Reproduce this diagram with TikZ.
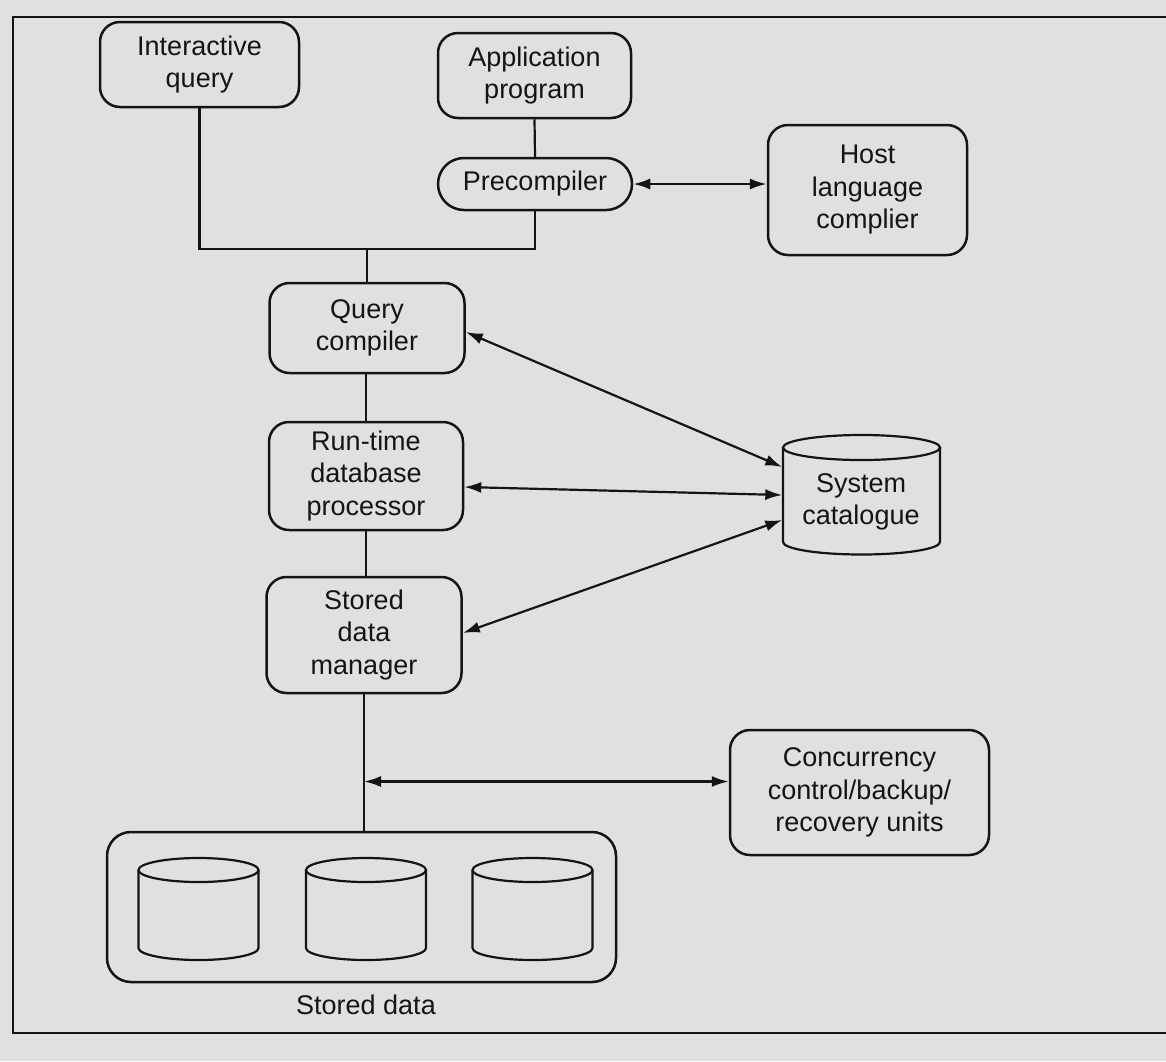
\documentclass[tikz,border=0pt]{standalone}
\usepackage{fontspec}
\setmainfont{Liberation Sans}
\usetikzlibrary{arrows.meta,calc}
\definecolor{paper}{RGB}{224,224,222}
\definecolor{ink}{RGB}{20,20,20}
\begin{document}
\begin{tikzpicture}[x=1pt,y=-1pt,
  every node/.style={font=\fontsize{27}{32.5}\selectfont, text=ink, align=center, inner sep=0pt},
  box/.style={draw=ink, line width=2.5pt, rounded corners=20pt},
  pill/.style={draw=ink, line width=2.5pt, rounded corners=26pt},
  conn/.style={draw=ink, line width=2.2pt},
  biarrow/.style={draw=ink, line width=2.2pt, {Latex[length=17pt,width=11pt]}-{Latex[length=17pt,width=11pt]}},
  cyl/.style={draw=ink, line width=2.2pt},
  frame/.style={draw=ink, line width=2.5pt}]
\fill[paper] (0,0) rectangle (1166,1061);
\useasboundingbox (0,0) rectangle (1166,1061);
\draw[frame] (1166,17) -- (13,17) -- (13,1033) -- (1166,1033);

% nodes
\node[box, minimum width=199pt, minimum height=85pt] (iq) at (199.5,64.5) {Interactive\\query};
\node[box, minimum width=193pt, minimum height=85pt] (app) at (534.5,75.5) {Application\\program};
\node[pill, minimum width=194pt, minimum height=52pt] (pre) at (535,184) {Precompiler};
\node[box, minimum width=199pt, minimum height=130pt] (host) at (867.5,190) {Host\\language\\complier};
\node[box, minimum width=195pt, minimum height=90pt] (qc) at (367,328) {Query\\compiler};
\node[box, minimum width=194pt, minimum height=108pt] (rt) at (366,476) {Run-time\\database\\processor};
\node[box, minimum width=195pt, minimum height=116pt] (sdm) at (364,635) {Stored\\data\\manager};
\node[minimum width=157pt, minimum height=120pt] (cat) at (861,502) {System\\catalogue};
\node[box, minimum width=259pt, minimum height=125pt] (conc) at (859.5,792.5) {Concurrency\\control/backup/\\recovery units};
\node[box, rounded corners=24pt, minimum width=509pt, minimum height=150pt] (store) at (361.5,907) {};
\node (sdl) at (366,1005) {Stored data};

% catalogue cylinder
\draw[cyl] (861.5,447.5) ellipse [x radius=78.5, y radius=12.5];
\draw[cyl] (783,447.5) -- (783,542)
  .. controls (783,549) and (818.7,554.5) .. (861.5,554.5)
  .. controls (904.3,554.5) and (940,549) .. (940,542) -- (940,447.5);

% stored-data cylinders
\foreach \cx in {198.5,366,532.5}{
  \draw[cyl] (\cx,870) ellipse [x radius=60, y radius=12];
  \draw[cyl] (\cx-60,870) -- (\cx-60,948)
    .. controls (\cx-60,954.6) and (\cx-33.1,960) .. (\cx,960)
    .. controls (\cx+33.1,960) and (\cx+60,954.6) .. (\cx+60,948) -- (\cx+60,870);
}

% connectors
\path (qc.north) ++(0,-33) coordinate (bus);
\draw[conn] (iq.south) |- (bus) -| (pre.south);
\draw[conn] (bus) -- (qc.north);
\draw[conn] (app.south) -- (pre.north);
\draw[biarrow] (pre.east) -- (pre.east -| host.west);
\draw[conn] (rt.north) -- (rt.north |- qc.south);
\draw[conn] (rt.south) -- (rt.south |- sdm.north);
\draw[conn] (sdm.south) -- (sdm.south |- store.north);
\coordinate (c1) at ($(cat.west)+(0,-35)$);
\coordinate (c2) at ($(cat.west)+(0,-7)$);
\coordinate (c3) at ($(cat.west)+(0,18)$);
\draw[biarrow] ($(qc.east)+(0,4)$) -- (c1);
\draw[biarrow] ($(rt.east)+(0,11)$) -- (c2);
\draw[biarrow] (c3) -- ($(sdm.east)+(0,-2)$);
\coordinate (ca) at ($(conc.west)+(0,-11)$);
\draw[biarrow] (sdm.south |- ca) -- (ca);
\end{tikzpicture}
\end{document}
